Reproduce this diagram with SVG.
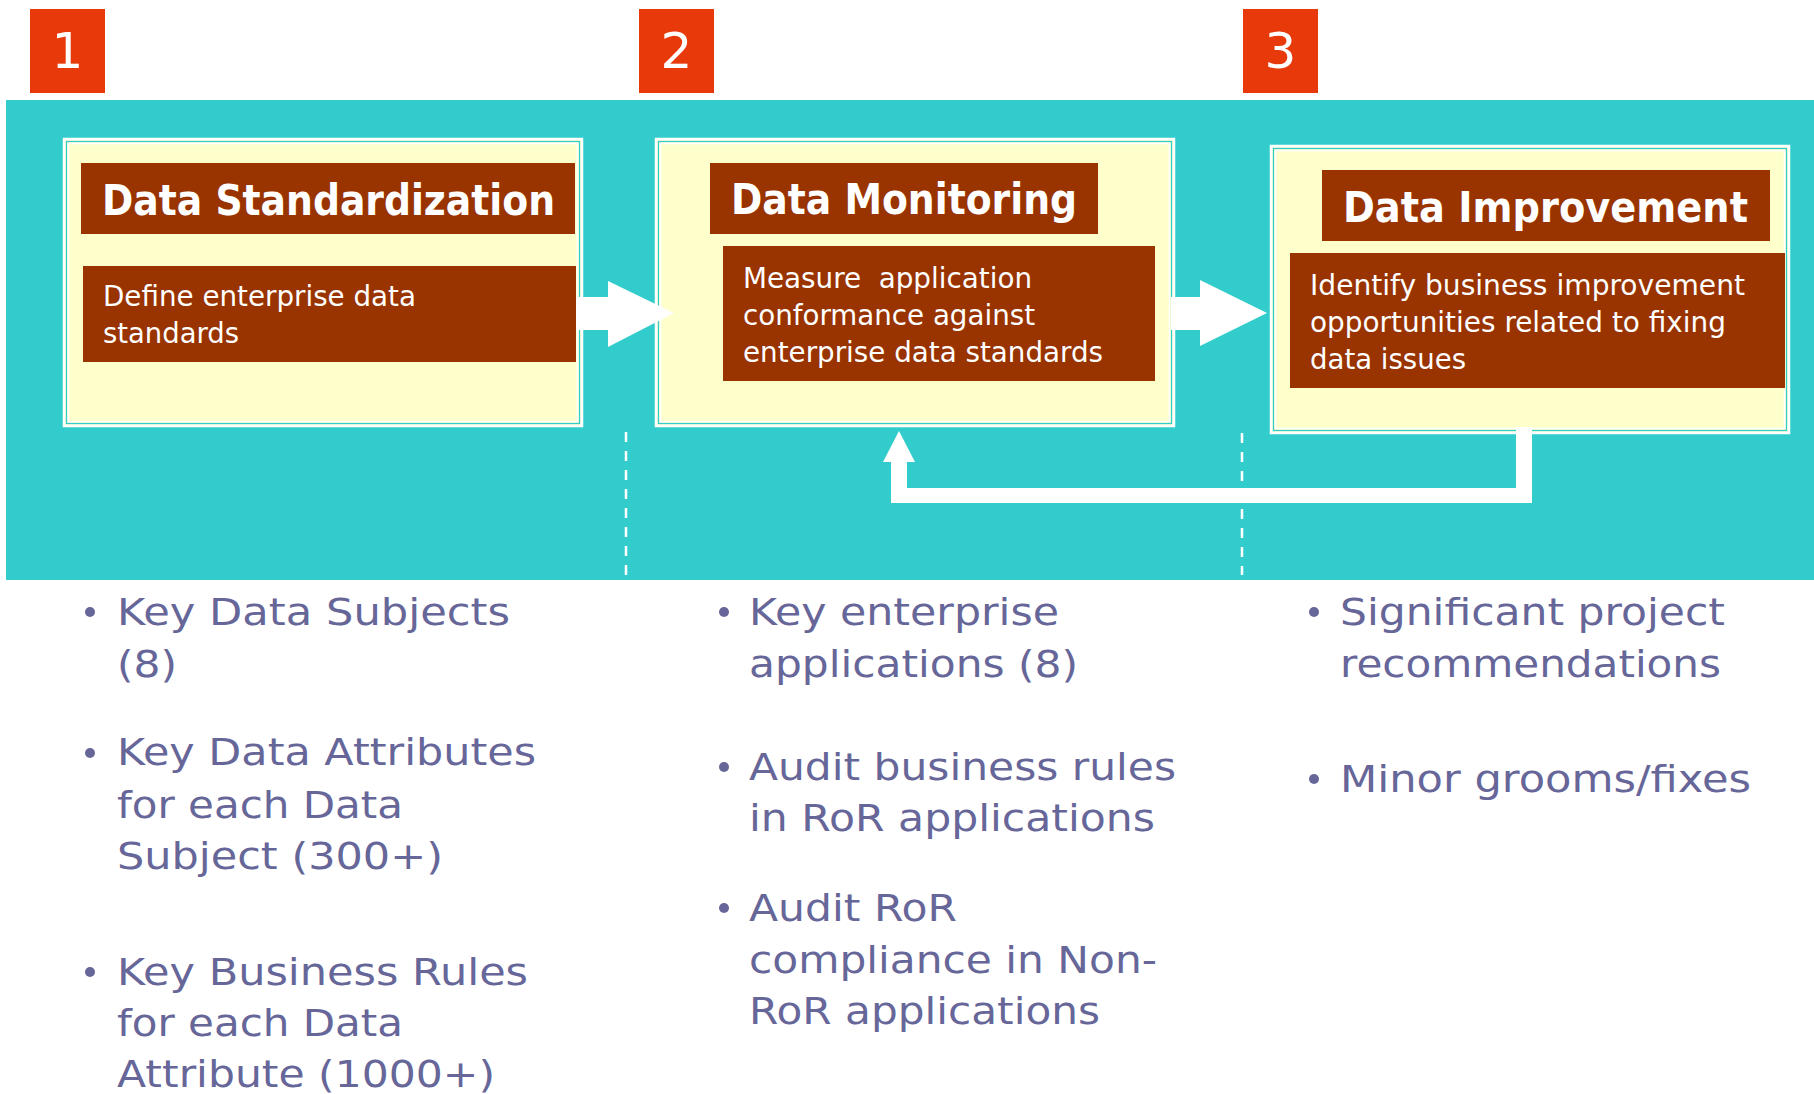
<svg xmlns="http://www.w3.org/2000/svg" width="1814" height="1094" viewBox="0 0 1814 1094">
  <style>
    .num { fill: #FFFFFF; font-family: "DejaVu Sans", "Liberation Sans", sans-serif; font-size: 50px; text-anchor: middle; }
    .badge { fill: #E8390A; }
    .card { fill: #FFFFCC; stroke: #FFFFFF; stroke-width: 2.5; }
    .card-mid { fill: none; stroke: #33CCCC; stroke-width: 1.3; }
    .card-in { fill: none; stroke: #FFFFFF; stroke-width: 1.5; }
    .bar { fill: #993300; }
    .title { fill: #FFFFFF; font-family: "DejaVu Sans", "Liberation Sans", sans-serif; font-weight: bold; font-size: 42px; }
    .body { fill: #FFFFFF; font-family: "DejaVu Sans Condensed", "DejaVu Sans", sans-serif; font-size: 29px; white-space: pre; }
    .bullet { fill: #666699; font-family: "DejaVu Sans", "Liberation Sans", sans-serif; font-size: 38px; }
    .dot { fill: #666699; }
    .flow { fill: #FFFFFF; }
    .divider { stroke: #FFFFFF; stroke-width: 2.5; stroke-dasharray: 10 9; fill: none; }
  </style>

  <rect x="0" y="0" width="1814" height="1094" fill="#FFFFFF"/>

  <!-- teal band behind the three stages -->
  <rect id="band" x="6" y="100" width="1808" height="480" fill="#33CCCC"/>

  <!-- step number badges -->
  <g id="badge-1">
    <rect class="badge" x="30" y="9" width="75" height="84"/>
    <text class="num" x="67.5" y="68">1</text>
  </g>
  <g id="badge-2">
    <rect class="badge" x="639" y="9" width="75" height="84"/>
    <text class="num" x="676.5" y="68">2</text>
  </g>
  <g id="badge-3">
    <rect class="badge" x="1243" y="9" width="75" height="84"/>
    <text class="num" x="1280.5" y="68">3</text>
  </g>

  <!-- stage 1 -->
  <g id="stage-standardization">
    <rect class="card" x="64" y="139" width="518" height="287"/>
    <rect class="card-mid" x="66.5" y="141.5" width="513" height="282"/>
    <rect class="card-in" x="68.5" y="143.5" width="509" height="278"/>
    <rect class="bar" x="81" y="163" width="494" height="71"/>
    <text class="title" x="102" y="215" textLength="453" lengthAdjust="spacingAndGlyphs">Data Standardization</text>
    <rect class="bar" x="83" y="266" width="493" height="96"/>
    <text class="body" x="103" y="306" textLength="313" lengthAdjust="spacingAndGlyphs">Define enterprise data</text>
    <text class="body" x="103" y="343" textLength="136" lengthAdjust="spacingAndGlyphs">standards</text>
  </g>

  <!-- stage 2 -->
  <g id="stage-monitoring">
    <rect class="card" x="656" y="139" width="518" height="287"/>
    <rect class="card-mid" x="658.5" y="141.5" width="513" height="282"/>
    <rect class="card-in" x="660.5" y="143.5" width="509" height="278"/>
    <rect class="bar" x="710" y="163" width="388" height="71"/>
    <text class="title" x="731" y="214" textLength="346" lengthAdjust="spacingAndGlyphs">Data Monitoring</text>
    <rect class="bar" x="723" y="246" width="432" height="135"/>
    <text class="body" x="743" y="288" textLength="289" lengthAdjust="spacingAndGlyphs" xml:space="preserve">Measure  application</text>
    <text class="body" x="743" y="325" textLength="292" lengthAdjust="spacingAndGlyphs">conformance against</text>
    <text class="body" x="743" y="362" textLength="360" lengthAdjust="spacingAndGlyphs">enterprise data standards</text>
  </g>

  <!-- stage 3 -->
  <g id="stage-improvement">
    <rect class="card" x="1271" y="146" width="518" height="287"/>
    <rect class="card-mid" x="1273.5" y="148.5" width="513" height="282"/>
    <rect class="card-in" x="1275.5" y="150.5" width="509" height="278"/>
    <rect class="bar" x="1322" y="170" width="448" height="71"/>
    <text class="title" x="1343" y="222" textLength="405" lengthAdjust="spacingAndGlyphs">Data Improvement</text>
    <rect class="bar" x="1290" y="253" width="495" height="135"/>
    <text class="body" x="1310" y="295" textLength="435" lengthAdjust="spacingAndGlyphs">Identify business improvement</text>
    <text class="body" x="1310" y="332" textLength="416" lengthAdjust="spacingAndGlyphs">opportunities related to fixing</text>
    <text class="body" x="1310" y="369" textLength="156" lengthAdjust="spacingAndGlyphs">data issues</text>
  </g>

  <!-- flow arrows and column dividers -->
  <g id="connectors">
    <polygon class="flow" points="576,297 608,297 608,281 674,313 608,347 608,330 576,330"/>
    <polygon class="flow" points="1171,297 1200,297 1200,280 1267,313 1200,346 1200,330 1171,330"/>
    <polygon class="flow" points="1516,427 1532,427 1532,503 891,503 891,462 883,462 899,431 915,462 907,462 907,488 1516,488"/>
    <line class="divider" x1="626" y1="432" x2="626" y2="575"/>
    <line class="divider" x1="1242" y1="433" x2="1242" y2="575"/>
  </g>

  <!-- column 1 bullets -->
  <g id="list-standardization">
    <circle class="dot" cx="90" cy="612" r="5"/>
    <text class="bullet" x="117" y="625" textLength="393" lengthAdjust="spacingAndGlyphs">Key Data Subjects</text>
    <text class="bullet" x="117" y="677" textLength="60" lengthAdjust="spacingAndGlyphs">(8)</text>
    <circle class="dot" cx="90" cy="753" r="5"/>
    <text class="bullet" x="117" y="765" textLength="419" lengthAdjust="spacingAndGlyphs">Key Data Attributes</text>
    <text class="bullet" x="117" y="818" textLength="286" lengthAdjust="spacingAndGlyphs">for each Data</text>
    <text class="bullet" x="117" y="869" textLength="326" lengthAdjust="spacingAndGlyphs">Subject (300+)</text>
    <circle class="dot" cx="90" cy="972" r="5"/>
    <text class="bullet" x="117" y="985" textLength="411" lengthAdjust="spacingAndGlyphs">Key Business Rules</text>
    <text class="bullet" x="117" y="1036" textLength="286" lengthAdjust="spacingAndGlyphs">for each Data</text>
    <text class="bullet" x="117" y="1087" textLength="378" lengthAdjust="spacingAndGlyphs">Attribute (1000+)</text>
  </g>

  <!-- column 2 bullets -->
  <g id="list-monitoring">
    <circle class="dot" cx="724" cy="612" r="5"/>
    <text class="bullet" x="749" y="625" textLength="310" lengthAdjust="spacingAndGlyphs">Key enterprise</text>
    <text class="bullet" x="749" y="677" textLength="329" lengthAdjust="spacingAndGlyphs">applications (8)</text>
    <circle class="dot" cx="724" cy="767" r="5"/>
    <text class="bullet" x="749" y="780" textLength="427" lengthAdjust="spacingAndGlyphs">Audit business rules</text>
    <text class="bullet" x="749" y="831" textLength="406" lengthAdjust="spacingAndGlyphs">in RoR applications</text>
    <circle class="dot" cx="724" cy="908" r="5"/>
    <text class="bullet" x="749" y="921" textLength="208" lengthAdjust="spacingAndGlyphs">Audit RoR</text>
    <text class="bullet" x="749" y="973" textLength="408" lengthAdjust="spacingAndGlyphs">compliance in Non-</text>
    <text class="bullet" x="749" y="1024" textLength="351" lengthAdjust="spacingAndGlyphs">RoR applications</text>
  </g>

  <!-- column 3 bullets -->
  <g id="list-improvement">
    <circle class="dot" cx="1314" cy="612" r="5"/>
    <text class="bullet" x="1340" y="625" textLength="385" lengthAdjust="spacingAndGlyphs">Significant project</text>
    <text class="bullet" x="1340" y="677" textLength="381" lengthAdjust="spacingAndGlyphs">recommendations</text>
    <circle class="dot" cx="1314" cy="779" r="5"/>
    <text class="bullet" x="1340" y="792" textLength="411" lengthAdjust="spacingAndGlyphs">Minor grooms/fixes</text>
  </g>
</svg>
